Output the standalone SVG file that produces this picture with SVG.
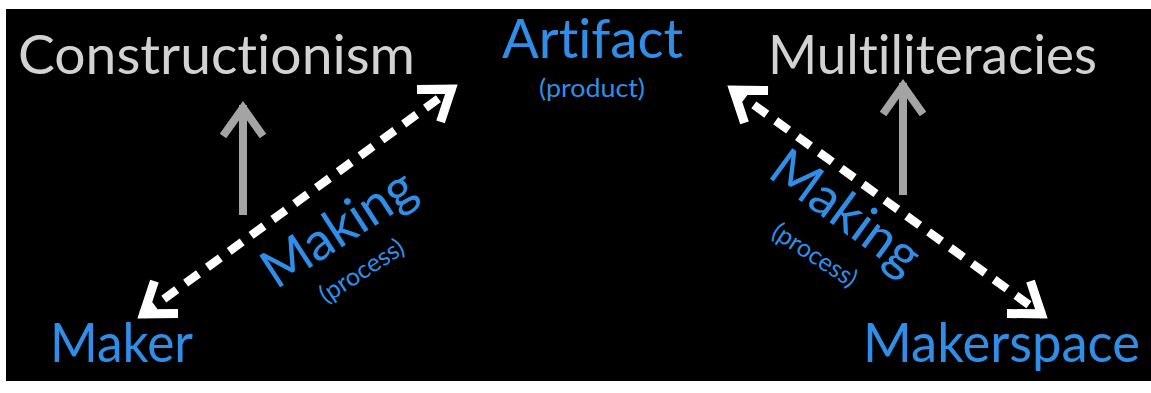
<svg xmlns="http://www.w3.org/2000/svg" width="1151" height="393" viewBox="0 0 1151 393">
  <style>
    .lbl { font-family: Lato, "Noto Sans", "DejaVu Sans", sans-serif; font-variant-ligatures: none; font-feature-settings: "liga" 0, "clig" 0; }
    .theory { fill: #d2d2d2; font-size: 54px; }
    .blue { fill: #2f8fe8; }
    .big { font-size: 54px; }
    .mid { font-size: 53px; }
    .small { font-size: 25px; }
    .dash { fill: none; stroke: #ffffff; stroke-width: 8.5; stroke-dasharray: 16 11; }
    .gray { fill: none; stroke: #a4a4a4; stroke-width: 8; }
    .head-w { fill: none; stroke: #ffffff; stroke-width: 9; stroke-linejoin: miter; stroke-miterlimit: 6; }
    .head-g { fill: none; stroke: #a4a4a4; stroke-width: 8; stroke-linejoin: miter; stroke-miterlimit: 6; }
  </style>
  <defs>
    <marker id="wh" markerUnits="userSpaceOnUse" markerWidth="60" markerHeight="60" viewBox="-40 -30 50 60" refX="0" refY="0" orient="auto-start-reverse" overflow="visible">
      <path class="head-w" d="M-30,-20 L-2,0 L-30,20"/>
    </marker>
    <marker id="gh" markerUnits="userSpaceOnUse" markerWidth="60" markerHeight="60" viewBox="-40 -30 50 60" refX="0" refY="0" orient="auto" overflow="visible">
      <path class="head-g" d="M-31,-20 L-3,0 L-31,20"/>
    </marker>
  </defs>

  <rect x="0" y="0" width="1151" height="393" fill="#ffffff"/>
  <rect x="6" y="9" width="1145" height="372" fill="#000000"/>

  <g id="connectors">
    <line class="gray" x1="243" y1="215" x2="243" y2="105" marker-end="url(#gh)"/>
    <line class="gray" x1="903" y1="195" x2="903" y2="83" marker-end="url(#gh)"/>
    <line class="dash" x1="142" y1="315" x2="453" y2="88" marker-start="url(#wh)" marker-end="url(#wh)"/>
    <line class="dash" x1="732" y1="89" x2="1043" y2="315" marker-start="url(#wh)" marker-end="url(#wh)"/>
  </g>

  <g id="constructionism">
    <text class="lbl theory" x="18" y="74" textLength="397" lengthAdjust="spacingAndGlyphs">Constructionism</text>
  </g>
  <g id="multiliteracies">
    <text class="lbl theory" x="768" y="74" textLength="329" lengthAdjust="spacingAndGlyphs">Multiliteracies</text>
  </g>
  <g id="artifact">
    <text class="lbl blue big" x="502" y="58" textLength="181" lengthAdjust="spacingAndGlyphs">Artifact</text>
    <text class="lbl blue small" x="592" y="97" text-anchor="middle" textLength="106" lengthAdjust="spacingAndGlyphs">(product)</text>
  </g>
  <g id="maker">
    <text class="lbl blue big" x="50" y="362" textLength="143" lengthAdjust="spacingAndGlyphs">Maker</text>
  </g>
  <g id="makerspace">
    <text class="lbl blue big" x="863" y="362" textLength="277" lengthAdjust="spacingAndGlyphs">Makerspace</text>
  </g>
  <g id="making-left">
    <text class="lbl blue mid" transform="translate(276,290) rotate(-33)">Making</text>
    <text class="lbl blue small" transform="translate(326,304) rotate(-33)">(process)</text>
  </g>
  <g id="making-right">
    <text class="lbl blue mid" transform="translate(766,176) rotate(36)">Making</text>
    <text class="lbl blue small" transform="translate(770,236) rotate(33)">(process)</text>
  </g>
</svg>
